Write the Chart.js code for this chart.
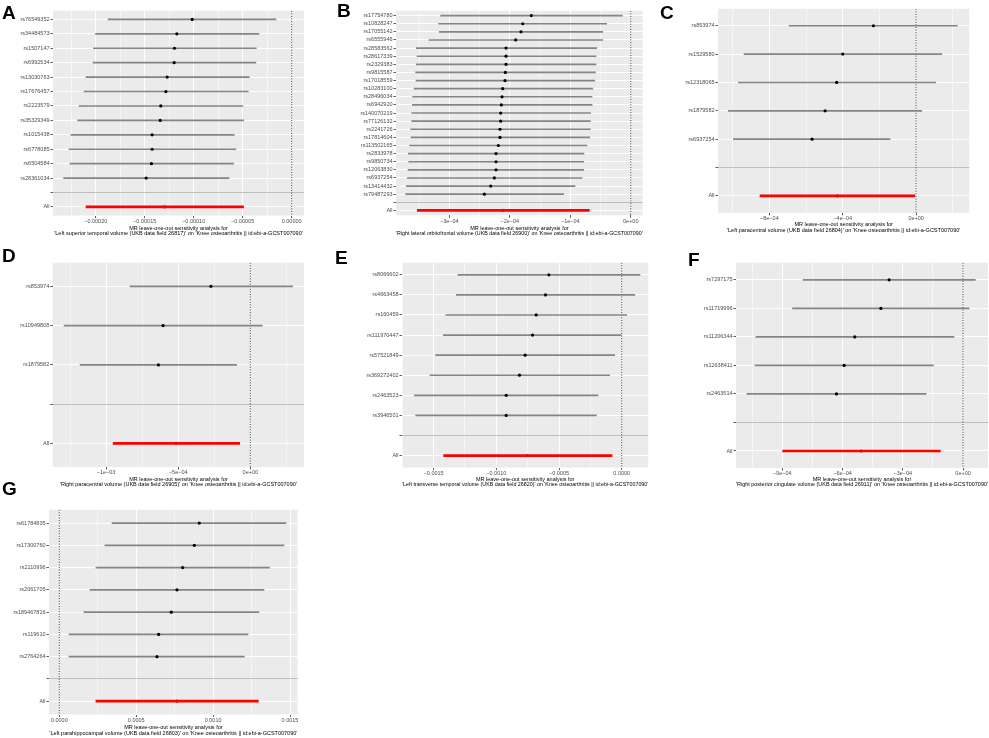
<!DOCTYPE html>
<html>
<head>
<meta charset="utf-8">
<script src="https://cdn.jsdelivr.net/npm/chart.js@4.4.1/dist/chart.umd.min.js"></script>
<style>
  html, body { margin:0; padding:0; background:#fff; width:989px; height:738px; overflow:hidden; position:relative; }
  canvas { position:absolute; }
  .lab { position:absolute; font-family:"Liberation Sans", Arial, sans-serif; font-weight:bold; font-size:19px; line-height:19px; color:#000; z-index:5; }
</style>
</head>
<body>
<script>
// ---------------- DATA ----------------
const titleLine1 = "MR leave-one-out sensitivity analysis for";
const outcome = "'Knee osteoarthritis || id:ebi-a-GCST007090'";

// Panel A
const snpA = ["rs76549352","rs34484573","rs1507147","rs6992534","rs13030763","rs17676457","rs2223579","rs35329349","rs1015438","rs6778085","rs6504584","rs28361034"];
const bA  = [-1.015e-4,-1.172e-4,-1.196e-4,-1.199e-4,-1.271e-4,-1.284e-4,-1.336e-4,-1.342e-4,-1.424e-4,-1.424e-4,-1.431e-4,-1.485e-4];
const loA = [-1.874e-4,-2.003e-4,-2.024e-4,-2.027e-4,-2.099e-4,-2.119e-4,-2.170e-4,-2.184e-4,-2.252e-4,-2.272e-4,-2.262e-4,-2.327e-4];
const upA = [-1.60e-5,-3.34e-5,-3.61e-5,-3.65e-5,-4.33e-5,-4.43e-5,-4.97e-5,-4.91e-5,-5.86e-5,-5.69e-5,-5.93e-5,-6.41e-5];
const allA = [-1.298e-4,-2.099e-4,-4.91e-5];
const ticksA = [-0.0002,-0.00015,-0.0001,-0.00005,0];
const tickLabA = ["\u22120.00020","\u22120.00015","\u22120.00010","\u22120.00005","0.00000"];
const rangeA = [-2.436e-4, 1.26e-5];
const exposureA = "'Left superior temporal volume (UKB data field 26817)'";

// Panel B
const snpB = ["rs17754780","rs10828247","rs17055142","rs6555946","rs28583562","rs28617339","rs2329383","rs9815587","rs17018559","rs10283100","rs28496034","rs6942920","rs140070219","rs77126132","rs2241726","rs17814604","rs113502165","rs2833978","rs9850734","rs12063830","rs6937254","rs13414432","rs79487293"];
const bB  = [-1.643e-4,-1.786e-4,-1.814e-4,-1.902e-4,-2.062e-4,-2.062e-4,-2.062e-4,-2.073e-4,-2.078e-4,-2.117e-4,-2.128e-4,-2.139e-4,-2.150e-4,-2.150e-4,-2.161e-4,-2.161e-4,-2.189e-4,-2.227e-4,-2.227e-4,-2.227e-4,-2.255e-4,-2.315e-4,-2.420e-4];
const loB = [-3.142e-4,-3.175e-4,-3.164e-4,-3.335e-4,-3.545e-4,-3.534e-4,-3.545e-4,-3.556e-4,-3.550e-4,-3.583e-4,-3.605e-4,-3.611e-4,-3.622e-4,-3.622e-4,-3.638e-4,-3.633e-4,-3.655e-4,-3.677e-4,-3.671e-4,-3.682e-4,-3.693e-4,-3.710e-4,-3.721e-4];
const upB = [-0.138e-4,-0.397e-4,-0.463e-4,-0.463e-4,-0.562e-4,-0.573e-4,-0.573e-4,-0.584e-4,-0.595e-4,-0.628e-4,-0.639e-4,-0.639e-4,-0.662e-4,-0.667e-4,-0.667e-4,-0.678e-4,-0.722e-4,-0.772e-4,-0.777e-4,-0.777e-4,-0.805e-4,-0.921e-4,-1.108e-4];
const allB = [-2.111e-4,-3.528e-4,-0.684e-4];
const ticksB = [-3e-4,-2e-4,-1e-4,0];
const tickLabB = ["\u22123e\u221204","\u22122e\u221204","\u22121e\u221204","0e+00"];
const rangeB = [-3.881e-4, 0.198e-4];
const exposureB = "'Right lateral orbitofrontal volume (UKB data field 26900)'";

// Panel C
const snpC = ["rs853974","rs1529580","rs12318065","rs1879582","rs6937254"];
const bC  = [-2.327e-4,-4.00e-4,-4.33e-4,-4.96e-4,-5.67e-4];
const loC = [-6.93e-4,-9.38e-4,-9.69e-4,-1.024e-3,-9.96e-4];
const upC = [2.25e-4,1.40e-4,1.07e-4,0.31e-4,-1.42e-4];
const allC = [-4.29e-4,-8.51e-4,-0.07e-4];
const ticksC = [-8e-4,-4e-4,0];
const tickLabC = ["\u22128e\u221204","\u22124e\u221204","0e+00"];
const rangeC = [-1.08e-3, 2.9e-4];
const exposureC = "'Left paracentral volume (UKB data field 26804)'";

// Panel D
const snpD = ["rs853974","rs10949808","rs1879582"];
const bD  = [-2.73e-4,-6.05e-4,-6.37e-4];
const loD = [-8.34e-4,-1.291e-3,-1.180e-3];
const upD = [2.93e-4,0.83e-4,-0.95e-4];
const allD = [-5.15e-4,-9.51e-4,-0.74e-4];
const ticksD = [-1e-3,-5e-4,0];
const tickLabD = ["\u22121e\u221203","\u22125e\u221204","0e+00"];
const rangeD = [-1.37e-3, 3.72e-4];
const exposureD = "'Right paracentral volume (UKB data field 26905)'";

// Panel E
const snpE = ["rs8066602","rs4663458","rs160459","rs111970447","rs57521849","rs369272402","rs2463523","rs3946501"];
const bE  = [-5.81e-4,-6.08e-4,-6.82e-4,-7.11e-4,-7.70e-4,-8.15e-4,-9.21e-4,-9.21e-4];
const loE = [-1.306e-3,-1.319e-3,-1.402e-3,-1.423e-3,-1.484e-3,-1.529e-3,-1.654e-3,-1.643e-3];
const upE = [1.46e-4,1.04e-4,0.40e-4,0.0,-0.56e-4,-0.96e-4,-1.88e-4,-2.02e-4];
const allE = [-7.51e-4,-1.420e-3,-0.77e-4];
const ticksE = [-0.0015,-0.001,-0.0005,0];
const tickLabE = ["\u22120.0015","\u22120.0010","\u22120.0005","0.0000"];
const rangeE = [-1.752e-3, 2.12e-4];
const exposureE = "'Left transverse temporal volume (UKB data field 26820)'";

// Panel F
const snpF = ["rs7297175","rs11719996","rs11206344","rs12638411","rs2463514"];
const bF  = [-3.68e-4,-4.09e-4,-5.39e-4,-5.92e-4,-6.30e-4];
const loF = [-7.96e-4,-8.49e-4,-1.031e-3,-1.036e-3,-1.076e-3];
const upF = [0.61e-4,0.30e-4,-0.45e-4,-1.48e-4,-1.84e-4];
const allF = [-5.07e-4,-8.98e-4,-1.13e-4];
const ticksF = [-9e-4,-6e-4,-3e-4,0];
const tickLabF = ["\u22129e\u221204","\u22126e\u221204","\u22123e\u221204","0e+00"];
const rangeF = [-1.130e-3, 1.24e-4];
const exposureF = "'Right posterior cingulate volume (UKB data field 26911)'";

// Panel G
const snpG = ["rs61784835","rs17300760","rs2110996","rs2061705","rs189467816","rs119610","rs2764264"];
const bG  = [9.10e-4,8.78e-4,8.02e-4,7.65e-4,7.28e-4,6.46e-4,6.35e-4];
const loG = [3.43e-4,2.97e-4,2.38e-4,1.99e-4,1.60e-4,0.63e-4,0.63e-4];
const upG = [1.474e-3,1.461e-3,1.366e-3,1.331e-3,1.298e-3,1.227e-3,1.203e-3];
const allG = [7.65e-4,2.38e-4,1.294e-3];
const ticksG = [0,5e-4,1e-3,1.5e-3];
const tickLabG = ["0.0000","0.0005","0.0010","0.0015"];
const rangeG = [-0.67e-4, 1.55e-3];
const exposureG = "'Left parahippocampal volume (UKB data field 26803)'";

// ---------------- LAYOUT (page pixels) ----------------
const boxes = {
  A: {L:53,    R:304,   T:6.9,   B:215.5, xH:20.3, lx:2,   ly:2.5},
  B: {L:396,   R:642.7, T:7.0,   B:215.3, xH:20.8, lx:337, ly:1},
  C: {L:717.7, R:969,   T:5.4,   B:213.3, xH:19.8, lx:660, ly:2.5},
  D: {L:52.7,  R:304,   T:259,   B:467,   xH:20.1, lx:2,   ly:245.5},
  E: {L:401.7, R:648,   T:258.7, B:467.3, xH:19.5, lx:335, ly:247.5},
  F: {L:736,   R:988,   T:258.6, B:467.7, xH:19.1, lx:688, ly:249.5},
  G: {L:49,    R:297.7, T:506.4, B:714.9, xH:21.2, lx:2,   ly:478.5}
};

const panels = [
  {id:'A', snp:snpA, b:bA, lo:loA, up:upA, all:allA, ticks:ticksA, tickLab:tickLabA, range:rangeA, exposure:exposureA},
  {id:'B', snp:snpB, b:bB, lo:loB, up:upB, all:allB, ticks:ticksB, tickLab:tickLabB, range:rangeB, exposure:exposureB},
  {id:'C', snp:snpC, b:bC, lo:loC, up:upC, all:allC, ticks:ticksC, tickLab:tickLabC, range:rangeC, exposure:exposureC},
  {id:'D', snp:snpD, b:bD, lo:loD, up:upD, all:allD, ticks:ticksD, tickLab:tickLabD, range:rangeD, exposure:exposureD},
  {id:'E', snp:snpE, b:bE, lo:loE, up:upE, all:allE, ticks:ticksE, tickLab:tickLabE, range:rangeE, exposure:exposureE},
  {id:'F', snp:snpF, b:bF, lo:loF, up:upF, all:allF, ticks:ticksF, tickLab:tickLabF, range:rangeF, exposure:exposureF},
  {id:'G', snp:snpG, b:bG, lo:loG, up:upG, all:allG, ticks:ticksG, tickLab:tickLabG, range:rangeG, exposure:exposureG}
];

const FONT = '"Liberation Sans", Arial, Helvetica, sans-serif';
Chart.defaults.font.family = FONT;

const panelBg = {
  id: 'panelBg',
  beforeDraw(chart) {
    const a = chart.chartArea, c = chart.ctx;
    c.save(); c.fillStyle = '#EBEBEB';
    c.fillRect(a.left, a.top, a.right - a.left, a.bottom - a.top);
    c.restore();
  }
};

function minorBreaks(majors, lo, hi) {
  const step = majors[1] - majors[0];
  const out = [];
  for (let i = -1; i < majors.length; i++) {
    const v = majors[0] + (i + 0.5) * step;
    if (v > lo && v < hi) out.push(v);
  }
  return out;
}

function drawPanel(p) {
  const bx = boxes[p.id];
  const labels = [...p.snp, '', 'All'];
  const n = labels.length;
  const cl = Math.max(0, bx.L - 60);
  const yW = bx.L - cl;
  const w = Math.ceil(bx.R - cl + 4);
  const padR = w - (bx.R - cl);
  const hRaw = bx.B - bx.T + bx.xH;
  const h = Math.ceil(hRaw);
  const padB = h - hRaw;

  const cv = document.createElement('canvas');
  cv.width = w; cv.height = h;
  cv.style.left = cl + 'px'; cv.style.top = bx.T + 'px';
  cv.style.width = w + 'px'; cv.style.height = h + 'px';
  document.body.appendChild(cv);

  const lab = document.createElement('div');
  lab.className = 'lab'; lab.textContent = p.id;
  lab.style.left = bx.lx + 'px'; lab.style.top = bx.ly + 'px';
  document.body.appendChild(lab);

  const minors = minorBreaks(p.ticks, p.range[0], p.range[1]);
  const tickObjs = [...p.ticks.map((v, i) => ({value: v, mn: false, lab: p.tickLab[i]})),
                    ...minors.map(v => ({value: v, mn: true, lab: ''}))].sort((a, b) => a.value - b.value);

  new Chart(cv, {
    type: 'bar',
    data: {
      datasets: [
        {type: 'line', data: [{x: 0, y: -0.6}, {x: 0, y: n - 0.4}], borderColor: '#000', borderWidth: 0.8,
         borderDash: [1, 1.6], pointRadius: 0, order: 5},
        {type: 'bar', data: p.snp.map((s, i) => ({y: i, x: [p.lo[i], p.up[i]]})), backgroundColor: '#858585',
         barThickness: 1, grouped: false, order: 4},
        {type: 'bar', data: [{y: n - 1, x: [p.all[1], p.all[2]]}], backgroundColor: '#FF0000',
         barThickness: 2, grouped: false, order: 3},
        {type: 'line', data: p.snp.map((s, i) => ({x: p.b[i], y: i})), showLine: false, pointRadius: 1.6,
         pointBackgroundColor: '#000', pointBorderWidth: 0, order: 2},
        {type: 'line', data: [{x: p.all[0], y: n - 1}], showLine: false, pointRadius: 1.6,
         pointBackgroundColor: '#FF0000', pointBorderWidth: 0, order: 1}
      ]
    },
    options: {
      indexAxis: 'y', responsive: false, animation: false, events: [], devicePixelRatio: 1,
      layout: {padding: {left: 0, top: 0, right: padR, bottom: padB}, autoPadding: false},
      plugins: {legend: {display: false}, tooltip: {enabled: false}, title: {display: false}},
      scales: {
        x: {
          type: 'linear', position: 'bottom', min: p.range[0], max: p.range[1], offset: false,
          border: {display: false},
          afterBuildTicks: s => { s.ticks = tickObjs.map(t => ({...t})); },
          afterFit: s => { s.height = bx.xH; },
          ticks: {
            autoSkip: false, maxRotation: 0, minRotation: 0, padding: 0.5, color: '#4D4D4D',
            font: {size: 5.5, lineHeight: 1},
            callback: (v, i, ts) => ts[i].lab
          },
          grid: {
            offset: false, drawTicks: true, tickLength: 2.5, tickWidth: 0.8,
            color: '#FFFFFF',
            lineWidth: c => (c.tick && c.tick.mn) ? 0.5 : 1,
            tickColor: c => (c.tick && c.tick.mn) ? 'rgba(0,0,0,0)' : '#333333'
          },
          title: {
            display: true, text: [titleLine1, p.exposure + ' on ' + outcome], color: '#000',
            font: {size: 5.5, lineHeight: 0.95}, padding: {top: 0, bottom: 0}
          }
        },
        y: {
          type: 'linear', position: 'left', reverse: true, min: -0.6, max: n - 0.4, offset: false,
          border: {display: false},
          afterBuildTicks: s => { s.ticks = labels.map((l, i) => ({value: i})); },
          afterFit: s => { s.width = yW; },
          ticks: {
            autoSkip: false, padding: 1, color: '#4D4D4D', font: {size: 5.5, lineHeight: 1},
            callback: v => labels[v]
          },
          grid: {
            offset: false, drawTicks: true, tickLength: 2.5, tickWidth: 0.8, tickColor: '#333333',
            lineWidth: 1,
            color: c => (c.tick && labels[c.tick.value] === '') ? '#BEBEBE' : '#FFFFFF'
          }
        }
      }
    },
    plugins: [panelBg]
  });
}

panels.forEach(drawPanel);
</script>
</body>
</html>
